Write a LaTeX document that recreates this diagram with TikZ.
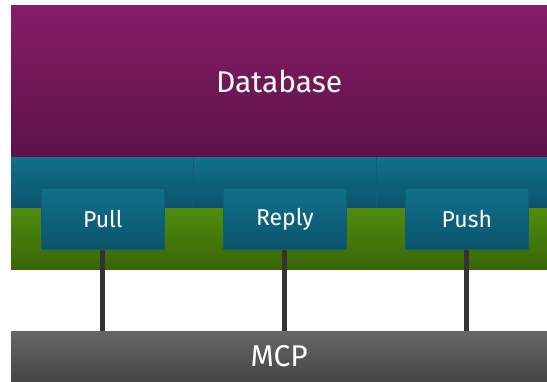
\documentclass[tikz,border=0pt]{standalone}
\usepackage{fontspec}
\setmainfont{Fira Sans}
\definecolor{purpT}{RGB}{134,29,104}
\definecolor{purpB}{RGB}{93,18,72}
\definecolor{tealT}{RGB}{16,113,141}
\definecolor{tealB}{RGB}{11,83,107}
\definecolor{tealE}{RGB}{22,90,115}
\definecolor{grnT}{RGB}{80,141,14}
\definecolor{grnB}{RGB}{57,101,8}
\definecolor{grayT}{RGB}{102,102,102}
\definecolor{grayB}{RGB}{70,70,70}
\definecolor{wire}{RGB}{51,51,51}
\begin{document}
\begin{tikzpicture}[x=1pt,y=-1pt,
  band/.style={rectangle,inner sep=0pt,anchor=north west,text=white},
  boxnode/.style={rectangle,inner sep=0pt,anchor=north west,minimum width=123pt,minimum height=61pt,
    top color=tealT,bottom color=tealB,draw=tealE,line width=0.8pt,text=white,font=\fontsize{23}{28}\selectfont},
  wireline/.style={draw=wire,line width=5pt}]
\useasboundingbox (0,0) rectangle (547,381);
\node[band,minimum width=536pt,minimum height=152pt,top color=purpT,bottom color=purpB,font=\fontsize{30}{36}\selectfont] (db) at (11,5) {Database};
\node[band,minimum width=536pt,minimum height=51pt,top color=tealT,bottom color=tealB] (teal) at (11,157) {};
\draw[tealE,line width=0.6pt] (193,157) -- (193,208) (376,157) -- (376,208);
\node[band,minimum width=536pt,minimum height=61pt,top color=grnT,bottom color=grnB] (green) at (11,208) {};
\node[band,minimum width=536pt,minimum height=50pt,top color=grayT,bottom color=grayB,font=\fontsize{30}{36}\selectfont] (mcp) at (11,331) {MCP};
\node[boxnode] (pull) at (41,188) {Pull};
\node[boxnode] (reply) at (223,188) {Reply};
\node[boxnode] (push) at (405,188) {Push};
\draw[wireline] (pull.south) -- (pull.south |- mcp.north);
\draw[wireline] (reply.south) -- (reply.south |- mcp.north);
\draw[wireline] (push.south) -- (push.south |- mcp.north);
\end{tikzpicture}
\end{document}
